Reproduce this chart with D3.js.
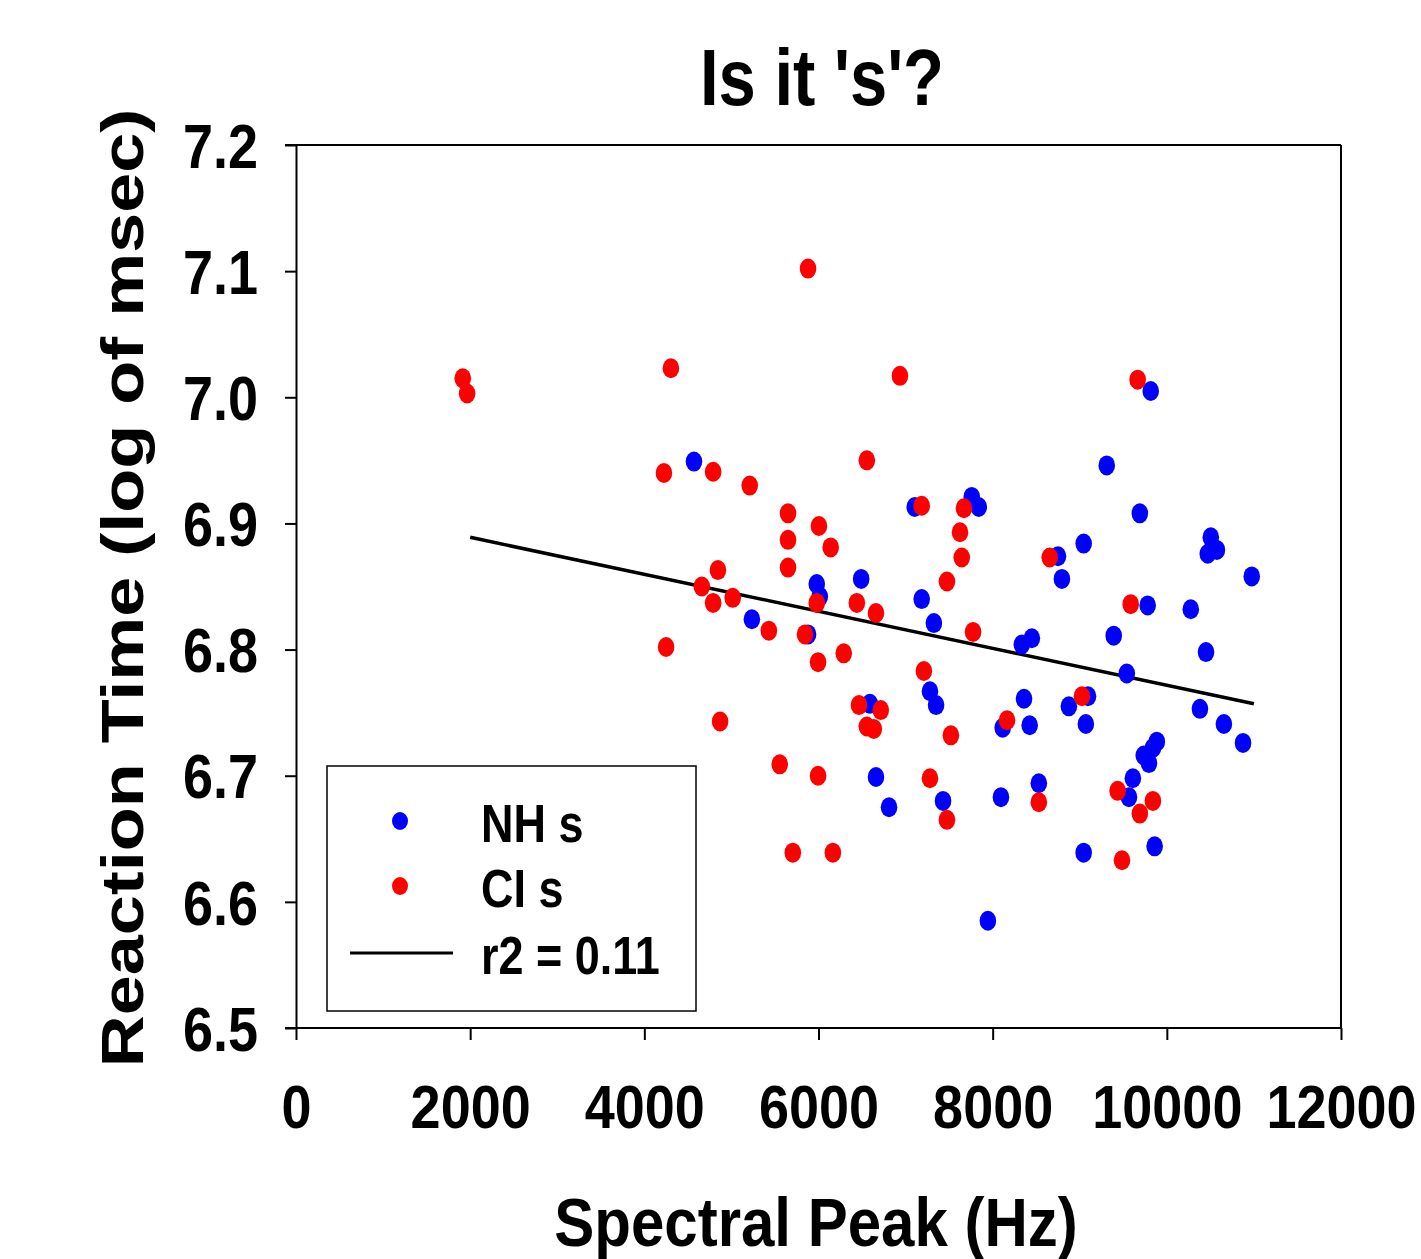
<!DOCTYPE html>
<html>
<head>
<meta charset="utf-8">
<script src="https://cdn.jsdelivr.net/npm/d3@7"></script>
<style>
    body { margin: 0; background: #fff; }
    svg text { font-family: "Liberation Sans", Arial, sans-serif; font-weight: bold; fill: #000; }
</style>
</head>
<body>
<div id="chart"></div>
<script>
// values
var nhPeak = [4570, 5235, 5880, 5980, 6015, 6490, 6590, 6660, 6810, 7105, 7185, 7280, 7325, 7350, 7430, 7760, 7840, 7945,
    8095, 8115, 8335, 8450, 8360, 8425, 8530, 8750, 8795, 8875, 9045, 9095, 9070, 9045, 9310, 9390, 9540, 9565, 9610,
    9690, 9735, 9795, 9840, 9885, 9780, 9815, 9860, 10275, 10380, 10450, 10470, 10505, 10575, 10655, 10875, 10975];
var nhRT = [6.949, 6.824, 6.812, 6.852, 6.842, 6.856, 6.757, 6.699, 6.675, 6.913, 6.840, 6.767, 6.821, 6.756, 6.680, 6.921,
    6.913, 6.585, 6.683, 6.738, 6.804, 6.809, 6.761, 6.740, 6.694, 6.874, 6.856, 6.755, 6.884, 6.763, 6.741, 6.639, 6.946,
    6.811, 6.781, 6.683, 6.698, 6.908, 6.716, 6.710, 6.722, 6.727, 6.835, 7.005, 6.644, 6.832, 6.753, 6.798, 6.876, 6.889,
    6.879, 6.741, 6.726, 6.858];
var ciPeak = [1915, 1965, 4305, 4225, 4790, 5210, 5650, 5650, 5650, 6005, 6140, 4845, 4660, 4790, 5015, 4250, 4870, 5430,
    5845, 5980, 5995, 6290, 6440, 6660, 5880, 6935, 6555, 7185, 7475, 7625, 7645, 7670, 7775, 7210, 6465, 6555, 6635,
    6715, 5555, 5995, 7280, 7520, 7475, 5705, 6165, 8165, 8530, 8655, 9025, 9435, 9485, 9585, 9665, 9690, 9840];
var ciRT = [7.015, 7.003, 7.023, 6.940, 6.941, 6.930, 6.908, 6.887, 6.865, 6.898, 6.881, 6.863, 6.850, 6.837, 6.841, 6.802,
    6.743, 6.815, 6.812, 6.837, 6.790, 6.797, 6.837, 6.829, 7.102, 7.017, 6.950, 6.914, 6.854, 6.893, 6.873, 6.912, 6.814,
    6.783, 6.756, 6.739, 6.737, 6.752, 6.709, 6.700, 6.698, 6.732, 6.665, 6.639, 6.639, 6.744, 6.679, 6.873, 6.763, 6.688,
    6.633, 6.836, 7.014, 6.670, 6.680];
var fitPeak = [2000, 11000];
var fitRT = [6.889, 6.757];
var xTicks = [0, 2000, 4000, 6000, 8000, 10000, 12000];
var yTicks = [6.5, 6.6, 6.7, 6.8, 6.9, 7.0, 7.1, 7.2];
var legendLabels = ["NH s", "CI s", "r2 = 0.11"];

(function() {
    var W = 1421, H = 1259;
    var left = 296, top = 145, right = 1341, bottom = 1028;

    var svg = d3.select("#chart")
        .append("svg")
        .attr("width", W)
        .attr("height", H);

    var x = d3.scaleLinear().domain([0, 12000]).range([left, right]);
    var y = d3.scaleLinear().domain([6.5, 7.2]).range([bottom, top]);

    // frame: top and right
    svg.append("line")
        .attr("x1", left - 11).attr("x2", right)
        .attr("y1", top).attr("y2", top)
        .attr("stroke", "#000").attr("stroke-width", 2);
    svg.append("line")
        .attr("x1", right).attr("x2", right)
        .attr("y1", top).attr("y2", bottom)
        .attr("stroke", "#000").attr("stroke-width", 2);

    var xAxis = svg.append("g")
        .attr("transform", "translate(0," + bottom + ")")
        .call(d3.axisBottom(x).tickValues(xTicks).tickSize(12).tickSizeOuter(0).tickFormat(d3.format("d")));
    var yAxis = svg.append("g")
        .attr("transform", "translate(" + left + ",0)")
        .call(d3.axisLeft(y).tickValues(yTicks).tickSize(11).tickSizeOuter(0).tickFormat(d3.format(".1f")));

    [xAxis, yAxis].forEach(function(ax) {
        ax.select(".domain").attr("stroke", "#000").attr("stroke-width", 2);
        ax.selectAll(".tick line").attr("stroke", "#000").attr("stroke-width", 2);
    });
    // extend bottom axis line to the left tick
    xAxis.select(".domain").attr("d", "M" + (left - 11) + ",0H" + right);

    // text in the original is stretched vertically
    xAxis.selectAll(".tick text")
        .attr("y", 100 / 1.12)
        .attr("dy", 0)
        .style("font-size", "54px")
        .attr("transform", "scale(1,1.12)");
    yAxis.selectAll(".tick text")
        .attr("x", -38)
        .attr("dy", "0.358em")
        .style("font-size", "54px")
        .attr("transform", "scale(1,1.15)");

    // title and axis titles
    svg.append("text")
        .attr("transform", "translate(822,105) scale(1,1.2)")
        .attr("text-anchor", "middle")
        .style("font-size", "67px")
        .text("Is it 's'?");
    svg.append("text")
        .attr("transform", "translate(816,1246) scale(1,1.14)")
        .attr("text-anchor", "middle")
        .style("font-size", "60px")
        .text("Spectral Peak (Hz)");
    svg.append("text")
        .attr("transform", "translate(143,588) rotate(-90) scale(1.22,1)")
        .attr("text-anchor", "middle")
        .style("font-size", "59px")
        .text("Reaction Time (log of msec)");

    // regression line
    svg.append("line")
        .attr("x1", x(fitPeak[0])).attr("y1", y(fitRT[0]))
        .attr("x2", x(fitPeak[1])).attr("y2", y(fitRT[1]))
        .attr("stroke", "#000").attr("stroke-width", 3.5);

    function drawDots(xs, ys, color, cls) {
        svg.selectAll("." + cls)
            .data(xs.map(function(d, i) { return [d, ys[i]]; }))
            .enter()
            .append("ellipse")
            .attr("class", cls)
            .attr("cx", function(d) { return x(d[0]); })
            .attr("cy", function(d) { return y(d[1]); })
            .attr("rx", 8.3)
            .attr("ry", 10)
            .style("fill", color);
    }
    drawDots(nhPeak, nhRT, "#0000ff", "nh");
    drawDots(ciPeak, ciRT, "#ff0000", "ci");

    // legend
    var lg = svg.append("g");
    lg.append("rect")
        .attr("x", 327).attr("y", 766)
        .attr("width", 369).attr("height", 245)
        .attr("fill", "#fff").attr("stroke", "#000").attr("stroke-width", 1.5);
    var rowY = [821, 886, 953];
    lg.append("ellipse").attr("cx", 400).attr("cy", rowY[0]).attr("rx", 8).attr("ry", 9).style("fill", "#0000ff");
    lg.append("ellipse").attr("cx", 400).attr("cy", rowY[1]).attr("rx", 8).attr("ry", 9).style("fill", "#ff0000");
    lg.append("line")
        .attr("x1", 350).attr("x2", 453)
        .attr("y1", rowY[2]).attr("y2", rowY[2])
        .attr("stroke", "#000").attr("stroke-width", 3);
    legendLabels.forEach(function(label, i) {
        lg.append("text")
            .attr("transform", "translate(481," + (rowY[i] + 21) + ") scale(1,1.18)")
            .style("font-size", "45px")
            .text(label);
    });
})();
</script>
</body>
</html>
